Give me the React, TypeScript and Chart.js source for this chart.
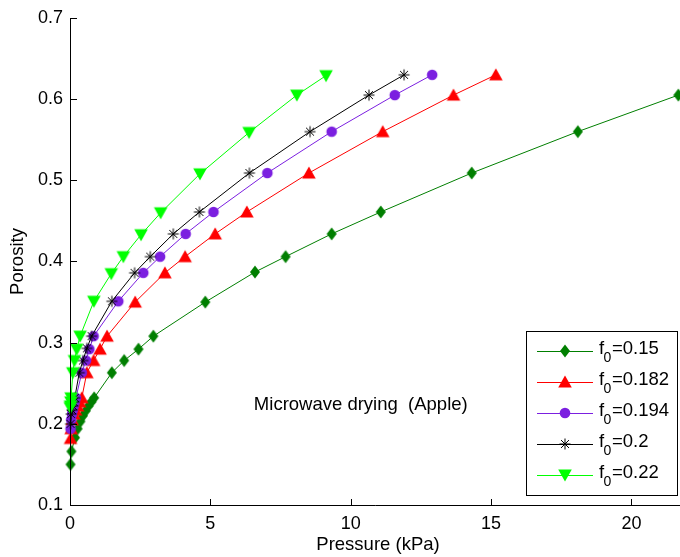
import React, { useEffect, useRef } from 'react';
import { Chart, registerables } from 'chart.js';

Chart.register(...registerables);

// ---------- data ----------
const SERIES_LABELS = ['0.15', '0.182', '0.194', '0.2', '0.22'];

const P_015 = [0.02, 0.05, 0.18, 0.27, 0.37, 0.46, 0.56, 0.66, 0.76, 0.86, 1.49, 1.93, 2.44, 2.97, 4.82, 6.59, 7.68, 9.32, 11.07, 14.31, 18.09, 21.67];
const PHI_015 = [0.150, 0.166, 0.183, 0.194, 0.203, 0.210, 0.216, 0.222, 0.227, 0.232, 0.263, 0.278, 0.292, 0.308, 0.350, 0.387, 0.406, 0.434, 0.461, 0.509, 0.560, 0.605];

const P_0182 = [0.02, 0.04, 0.08, 0.14, 0.2, 0.27, 0.34, 0.42, 0.6, 0.84, 1.07, 1.32, 2.32, 3.38, 4.10, 5.17, 6.30, 8.51, 11.14, 13.66, 15.17];
const PHI_0182 = [0.182, 0.194, 0.205, 0.212, 0.217, 0.222, 0.227, 0.232, 0.263, 0.278, 0.292, 0.308, 0.350, 0.386, 0.406, 0.434, 0.461, 0.509, 0.560, 0.605, 0.630];

const P_0194 = [0.02, 0.04, 0.07, 0.1, 0.13, 0.17, 0.21, 0.42, 0.57, 0.69, 0.84, 1.72, 2.61, 3.21, 4.12, 5.11, 7.03, 9.32, 11.57, 12.90];
const PHI_0194 = [0.194, 0.205, 0.212, 0.217, 0.222, 0.227, 0.232, 0.263, 0.278, 0.292, 0.308, 0.351, 0.386, 0.406, 0.434, 0.461, 0.509, 0.560, 0.605, 0.630];

const P_02 = [0.02, 0.04, 0.07, 0.1, 0.13, 0.17, 0.33, 0.46, 0.6, 0.77, 1.49, 2.30, 2.86, 3.68, 4.61, 6.39, 8.55, 10.65, 11.90];
const PHI_02 = [0.200, 0.212, 0.217, 0.222, 0.227, 0.232, 0.263, 0.278, 0.293, 0.308, 0.351, 0.386, 0.406, 0.434, 0.461, 0.509, 0.560, 0.605, 0.630];

const P_022 = [0.01, 0.02, 0.03, 0.04, 0.1, 0.16, 0.24, 0.36, 0.85, 1.47, 1.90, 2.53, 3.23, 4.63, 6.38, 8.08, 9.12];
const PHI_022 = [0.220, 0.222, 0.227, 0.232, 0.263, 0.278, 0.292, 0.308, 0.351, 0.385, 0.406, 0.433, 0.460, 0.508, 0.559, 0.605, 0.629];

const X_TICKS = [0, 5, 10, 15, 20];
const Y_TICKS = [0.1, 0.2, 0.3, 0.4, 0.5, 0.6, 0.7];
const X_MIN = 0;
const X_MAX = 21.73;
const Y_MIN = 0.1;
const Y_MAX = 0.7;

const X_TITLE = 'Pressure (kPa)';
const Y_TITLE = 'Porosity';
const ANNOTATION = 'Microwave drying  (Apple)';
const ANNOT_X = 6.55;
const ANNOT_Y = 0.2235;

// ---------- styles ----------
const FONT = '"Liberation Sans", Arial, Helvetica, sans-serif';
type Kind = 'diamond' | 'triUp' | 'circle' | 'star' | 'triDown';
const KINDS: Kind[] = ['diamond', 'triUp', 'circle', 'star', 'triDown'];
const COLORS = ['#007f00', '#ff0000', '#7b1fe0', '#000000', '#00ff00'];

function drawMarker(ctx: CanvasRenderingContext2D, kind: Kind, color: string, x: number, y: number) {
  ctx.save();
  ctx.fillStyle = color;
  ctx.strokeStyle = color;
  ctx.lineWidth = 1;
  ctx.beginPath();
  if (kind === 'diamond') {
    ctx.moveTo(x, y - 6.5);
    ctx.lineTo(x + 5, y);
    ctx.lineTo(x, y + 6.5);
    ctx.lineTo(x - 5, y);
    ctx.closePath();
    ctx.fill();
  } else if (kind === 'triUp') {
    ctx.moveTo(x, y - 6.5);
    ctx.lineTo(x + 6.8, y + 5.5);
    ctx.lineTo(x - 6.8, y + 5.5);
    ctx.closePath();
    ctx.fill();
  } else if (kind === 'triDown') {
    ctx.moveTo(x - 6.8, y - 5.5);
    ctx.lineTo(x + 6.8, y - 5.5);
    ctx.lineTo(x, y + 6.5);
    ctx.closePath();
    ctx.fill();
  } else if (kind === 'circle') {
    ctx.arc(x, y, 5.3, 0, Math.PI * 2);
    ctx.fill();
  } else {
    const r = 5.5;
    const d = r * 0.72;
    ctx.moveTo(x - r, y); ctx.lineTo(x + r, y);
    ctx.moveTo(x, y - r); ctx.lineTo(x, y + r);
    ctx.moveTo(x - d, y - d); ctx.lineTo(x + d, y + d);
    ctx.moveTo(x - d, y + d); ctx.lineTo(x + d, y - d);
    ctx.stroke();
  }
  ctx.restore();
}

function makeMarkerCanvas(kind: Kind, color: string): HTMLCanvasElement {
  const c = document.createElement('canvas');
  c.width = 24;
  c.height = 24;
  const ctx = c.getContext('2d')!;
  drawMarker(ctx, kind, color, 12, 12);
  return c;
}

const overlayPlugin = {
  id: 'matlabOverlay',
  afterDraw(chart: any) {
    const ctx: CanvasRenderingContext2D = chart.ctx;
    const area = chart.chartArea;
    const xs = chart.scales.x;
    const ys = chart.scales.y;
    ctx.save();
    // axes lines
    ctx.strokeStyle = '#000';
    ctx.lineWidth = 1;
    ctx.beginPath();
    ctx.moveTo(Math.round(area.left) + 0.5, area.top);
    ctx.lineTo(Math.round(area.left) + 0.5, Math.round(area.bottom) + 0.5);
    ctx.lineTo(area.right, Math.round(area.bottom) + 0.5);
    ctx.stroke();
    // inward tick marks
    ctx.beginPath();
    X_TICKS.forEach((v) => {
      const px = Math.round(xs.getPixelForValue(v)) + 0.5;
      ctx.moveTo(px, Math.round(area.bottom));
      ctx.lineTo(px, Math.round(area.bottom) - 6);
    });
    Y_TICKS.forEach((v) => {
      const py = Math.round(ys.getPixelForValue(v)) + 0.5;
      ctx.moveTo(Math.round(area.left), py);
      ctx.lineTo(Math.round(area.left) + 7, py);
    });
    ctx.stroke();

    // axis titles
    ctx.fillStyle = '#000';
    ctx.font = `18.5px ${FONT}`;
    ctx.textAlign = 'center';
    ctx.textBaseline = 'middle';
    ctx.fillText(X_TITLE, (area.left + area.right) / 2 + 3, 545);
    ctx.save();
    ctx.translate(18, (area.top + area.bottom) / 2);
    ctx.rotate(-Math.PI / 2);
    ctx.fillText(Y_TITLE, 0, 0);
    ctx.restore();

    // annotation
    ctx.textAlign = 'left';
    ctx.textBaseline = 'middle';
    ctx.fillText(ANNOTATION, xs.getPixelForValue(ANNOT_X), ys.getPixelForValue(ANNOT_Y));

    // legend
    const bx = 526.5, by = 331.5, bw = 151, bh = 164;
    ctx.fillStyle = '#fff';
    ctx.fillRect(bx, by, bw, bh);
    ctx.strokeStyle = '#000';
    ctx.strokeRect(bx, by, bw, bh);
    SERIES_LABELS.forEach((lab, i) => {
      const ry = 351 + i * 31;
      ctx.strokeStyle = COLORS[i];
      ctx.lineWidth = 1;
      ctx.beginPath();
      ctx.moveTo(537, ry + 0.5);
      ctx.lineTo(593, ry + 0.5);
      ctx.stroke();
      drawMarker(ctx, KINDS[i], COLORS[i], 565, ry);
      ctx.fillStyle = '#000';
      ctx.textAlign = 'left';
      ctx.textBaseline = 'alphabetic';
      ctx.font = `18.5px ${FONT}`;
      ctx.fillText('f', 599, ry + 3);
      ctx.font = `14px ${FONT}`;
      ctx.fillText('0', 603.5, ry + 11);
      ctx.font = `18.5px ${FONT}`;
      ctx.fillText('=' + lab, 612, ry + 3);
    });
    ctx.restore();
  },
};

export default function App() {
  const ref = useRef<HTMLCanvasElement>(null);

  useEffect(() => {
    const canvas = ref.current;
    if (!canvas) return;
    const series = [
      [P_015, PHI_015],
      [P_0182, PHI_0182],
      [P_0194, PHI_0194],
      [P_02, PHI_02],
      [P_022, PHI_022],
    ];
    const datasets = series.map(([px, py], i) => ({
      label: 'f0=' + SERIES_LABELS[i],
      data: px.map((v, j) => ({ x: v, y: py[j] })),
      borderColor: COLORS[i],
      backgroundColor: COLORS[i],
      borderWidth: 1,
      showLine: true,
      pointStyle: makeMarkerCanvas(KINDS[i], COLORS[i]),
      pointRadius: 6,
      tension: 0,
      clip: false as any,
      order: 5 - i,
    }));

    const chart = new Chart(canvas, {
      type: 'scatter',
      data: { datasets },
      options: {
        animation: false,
        responsive: false,
        devicePixelRatio: 1,
        layout: { autoPadding: false, padding: { top: 18, right: 0, left: 0, bottom: 0 } },
        plugins: { legend: { display: false }, tooltip: { enabled: false } },
        scales: {
          x: {
            type: 'linear',
            min: X_MIN,
            max: X_MAX,
            grid: { display: false, drawTicks: false },
            border: { display: false },
            afterBuildTicks: (s: any) => { s.ticks = X_TICKS.map((v) => ({ value: v })); },
            afterFit: (s: any) => { s.height = 52; s.paddingLeft = 0; s.paddingRight = 0; },
            ticks: {
              padding: 8,
              color: '#000',
              font: { family: FONT, size: 18 },
              maxRotation: 0,
              autoSkip: false,
              callback: (v: any) => String(v),
            },
          },
          y: {
            type: 'linear',
            min: Y_MIN,
            max: Y_MAX,
            grid: { display: false, drawTicks: false },
            border: { display: false },
            afterBuildTicks: (s: any) => { s.ticks = Y_TICKS.map((v) => ({ value: v })); },
            afterFit: (s: any) => { s.width = 70; },
            ticks: {
              padding: 7,
              color: '#000',
              font: { family: FONT, size: 18 },
              autoSkip: false,
              callback: (v: any) => Number(v).toFixed(1),
            },
          },
        },
      },
      plugins: [overlayPlugin],
    });
    return () => chart.destroy();
  }, []);

  return (
    <div style={{ position: 'absolute', left: 0, top: 0, width: 680, height: 557, background: '#fff' }}>
      <canvas ref={ref} width={680} height={557} style={{ display: 'block' }} />
    </div>
  );
}
